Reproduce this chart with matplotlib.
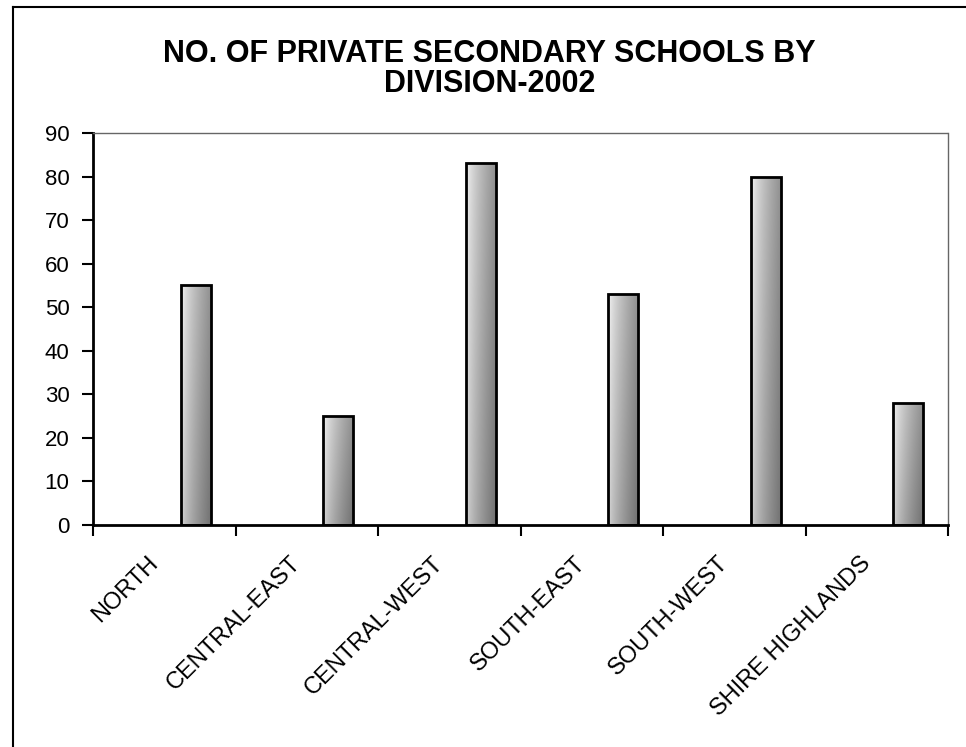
import numpy as np
import matplotlib
matplotlib.use("Agg")
import matplotlib.pyplot as plt
from matplotlib.lines import Line2D
from matplotlib.transforms import ScaledTranslation

# data
divisions = ["NORTH", "CENTRAL-EAST", "CENTRAL-WEST", "SOUTH-EAST", "SOUTH-WEST", "SHIRE HIGHLANDS"]
schools = [55, 25, 83, 53, 80, 28]
y_ticks = list(range(0, 100, 10))

plt.rcParams["font.family"] = ["Liberation Sans", "DejaVu Sans"]

fig = plt.figure(figsize=(9.66, 7.47), dpi=100)
ax = fig.add_axes([0.0963, 0.2972, 0.8851, 0.5248])

x = np.arange(len(divisions))
offset = 0.22
width = 0.21

# gradient image: light on the left, darker to the right and toward the bottom
gx = np.linspace(0, 1, 64)[None, :]
gy = np.linspace(0, 1, 64)[:, None]
shade = 0.97 - 0.40 * gx ** 0.7 - 0.12 * gy
shade = np.clip(shade, 0, 1)

for xi, val in zip(x, schools):
    bar = ax.bar(xi + offset, val, width=width, color="none", edgecolor="black",
                 linewidth=2.0, zorder=3)[0]
    im = ax.imshow(shade, cmap="gray", vmin=0, vmax=1, aspect="auto",
                   extent=[xi + offset - width / 2, xi + offset + width / 2, 0, val],
                   origin="upper", zorder=2, interpolation="bilinear")
    im.set_clip_path(bar)

ax.set_xlim(-0.5, len(divisions) - 0.5)
ax.set_ylim(0, 90)
ax.set_yticks(y_ticks)
ax.set_yticklabels([str(v) for v in y_ticks], fontsize=16)

ax.set_xticks(np.arange(len(divisions) + 1) - 0.5)
ax.set_xticklabels([])
ax.set_xticks(x, minor=True)
ax.set_xticklabels(divisions, minor=True, rotation=45, ha="right",
                   rotation_mode="anchor", fontsize=17)
ax.tick_params(axis="x", which="minor", length=0, pad=16)
ax.tick_params(axis="x", which="major", direction="out", length=8, width=1.5)
ax.tick_params(axis="y", direction="out", length=8, width=1.5, pad=9)

# nudge the slanted labels a little left and down
shift = ScaledTranslation(-17 / 100, -5 / 100, fig.dpi_scale_trans)
for lbl in ax.get_xticklabels(minor=True):
    lbl.set_transform(lbl.get_transform() + shift)

for s in ["left", "bottom"]:
    ax.spines[s].set_linewidth(2.0)
    ax.spines[s].set_color("black")
for s in ["top", "right"]:
    ax.spines[s].set_linestyle((0, (1, 1)))
    ax.spines[s].set_color("#666666")
    ax.spines[s].set_linewidth(1.0)

fig.text(0.507, 0.928, "NO. OF PRIVATE SECONDARY SCHOOLS BY", ha="center", va="center",
         fontsize=22, fontweight="bold")
fig.text(0.507, 0.887, "DIVISION-2002", ha="center", va="center",
         fontsize=22, fontweight="bold")

# outer frame (left and top edges only)
fig.add_artist(Line2D([0.0135, 0.0135], [0.0, 0.991], transform=fig.transFigure,
                      color="black", linewidth=1.5))
fig.add_artist(Line2D([0.0135, 1.0], [0.991, 0.991], transform=fig.transFigure,
                      color="black", linewidth=1.5))

fig.savefig("out.png", dpi=100)
